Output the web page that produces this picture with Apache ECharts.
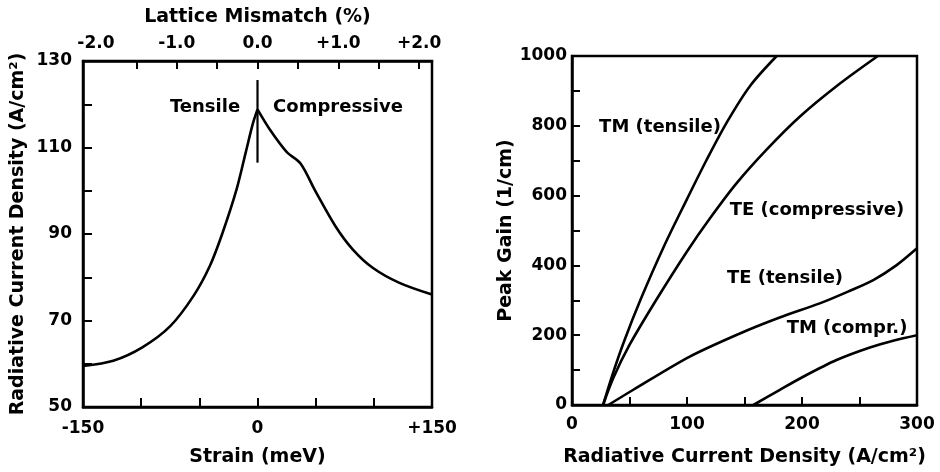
<!DOCTYPE html>
<html>
<head>
<meta charset="UTF-8">
<title>Strain: radiative current density and peak gain</title>
<script src="https://cdn.jsdelivr.net/npm/echarts@6/dist/echarts.min.js"></script>
<style>
  html, body { margin: 0; padding: 0; background: #fff; }
  #chart { width: 940px; height: 472px; }
</style>
</head>
<body>
<div id="chart"></div>
<script>
// left panel: radiative current density vs strain (meV), split at the cusp
var tensileBranch = [[-150, 59.5], [-124, 60.7], [-99, 63.8], [-75, 68.7], [-55, 75.7],
  [-41, 82.6], [-30, 90.3], [-18, 100.3], [-10, 109], [-4, 115.5], [0, 118.8]];
var compressiveBranch = [[0, 118.8], [10, 114.4], [25, 109], [37, 106.3], [50, 99.8],
  [67, 91.8], [82, 86.4], [99, 82.2], [122, 78.7], [150, 76]];
var dividerLine = [[0, 106.5], [0, 125.6]];
var strainLabels = [-150, 0, 150];
var strainTicks = [-100, -50, 0, 50, 100];
var mismatchLabels = [-2, -1, 0, 1, 2];
var mismatchTicks = [-1.5, -1, -0.5, 0, 0.5, 1, 1.5, 2];
var densityLabels = [50, 70, 90, 110, 130];

// right panel: peak gain vs radiative current density
var tmTensile = [[27, 0], [35, 85], [45, 180], [60, 305], [80, 455], [100, 590],
  [117, 702], [135, 812], [155, 915], [178, 1000]];
var teCompressive = [[27, 0], [36, 78], [50, 172], [74, 305], [100, 440], [120, 535],
  [143, 635], [169, 731], [198, 826], [233, 921], [266, 1000]];
var teTensile = [[31.6, 0], [53, 43], [102, 138], [146, 205], [180, 250], [216, 292],
  [240, 325], [262, 358], [282, 400], [300, 449]];
var tmCompr = [[157.7, 0], [180, 42], [201, 81], [230, 129], [259, 165], [280, 185], [300, 200]];
var gainLabels = [0, 200, 400, 600, 800, 1000];
var currentLabels = [0, 100, 200, 300];

var FONT = 'DejaVu Sans';
var INK = '#000';

function tickStyle(len) {
  return { show: true, inside: true, length: len, lineStyle: { color: INK, width: 2 } };
}
function frameLine() {
  return { show: true, onZero: false, lineStyle: { color: INK, width: 2.5 } };
}
function lineSeries(data, xi, yi) {
  return {
    type: 'line', data: data, xAxisIndex: xi, yAxisIndex: yi,
    smooth: 0.3, symbol: 'none', silent: true,
    lineStyle: { color: INK, width: 2.6 }
  };
}
var labelBase = { color: INK, fontFamily: FONT, fontSize: 17, fontWeight: 'bold' };
var nameBase = { color: INK, fontFamily: FONT, fontSize: 19, fontWeight: 'bold' };
function plusFmt(v, d) {
  var s = d ? Math.abs(v).toFixed(d) : String(Math.abs(v));
  if (v > 0) return '+' + s;
  if (v < 0) return '-' + s;
  return s;
}
function note(text, x, y) {
  return { type: 'text', x: x, y: y, style: { text: text, fill: INK,
    font: 'bold 18px "DejaVu Sans"', align: 'center', verticalAlign: 'middle' } };
}

var chart = echarts.init(document.getElementById('chart'));
chart.setOption({
  animation: false,
  grid: [
    { left: 83, right: 508, top: 61, bottom: 64, show: true, borderColor: INK, borderWidth: 2.5 },
    { left: 572, right: 23, top: 56, bottom: 67, show: true, borderColor: INK, borderWidth: 2.5 }
  ],
  xAxis: [
    {
      gridIndex: 0, type: 'value', position: 'bottom', min: -150, max: 150,
      name: 'Strain (meV)', nameLocation: 'middle', nameGap: 41, nameTextStyle: nameBase,
      axisLine: frameLine(),
      axisTick: Object.assign(tickStyle(9), { customValues: strainTicks }),
      axisLabel: Object.assign({}, labelBase, { margin: 13, customValues: strainLabels,
        formatter: function (v) { return plusFmt(v, 0); } }),
      splitLine: { show: false }
    },
    {
      gridIndex: 0, type: 'value', position: 'top', min: -2.16, max: 2.16,
      name: 'Lattice Mismatch (%)', nameLocation: 'middle', nameGap: 34, nameTextStyle: nameBase,
      axisLine: frameLine(),
      axisTick: Object.assign(tickStyle(8), { customValues: mismatchTicks }),
      axisLabel: Object.assign({}, labelBase, { margin: 9, customValues: mismatchLabels,
        formatter: function (v) { return plusFmt(v, 1); } }),
      splitLine: { show: false }
    },
    {
      gridIndex: 1, type: 'value', min: 0, max: 300, interval: 50,
      name: 'Radiative Current Density (A/cm²)', nameLocation: 'middle', nameGap: 43,
      nameTextStyle: nameBase,
      axisLine: frameLine(),
      axisTick: tickStyle(8),
      axisLabel: Object.assign({}, labelBase, { margin: 11, customValues: currentLabels }),
      splitLine: { show: false }
    }
  ],
  yAxis: [
    {
      gridIndex: 0, type: 'value', min: 50, max: 130, interval: 10,
      name: 'Radiative Current Density (A/cm²)', nameLocation: 'middle', nameGap: 55,
      nameTextStyle: nameBase,
      axisLine: frameLine(),
      axisTick: tickStyle(9),
      axisLabel: Object.assign({}, labelBase, { margin: 11, customValues: densityLabels }),
      splitLine: { show: false }
    },
    {
      gridIndex: 1, type: 'value', min: 0, max: 1000, interval: 100,
      name: 'Peak Gain (1/cm)', nameLocation: 'middle', nameGap: 56, nameTextStyle: nameBase,
      axisLine: frameLine(),
      axisTick: tickStyle(8),
      axisLabel: Object.assign({}, labelBase, { margin: 5, customValues: gainLabels,
        formatter: function (v) { return String(v); } }),
      splitLine: { show: false }
    }
  ],
  graphic: [
    note('Tensile', 205, 107),
    note('Compressive', 338, 107),
    note('TM (tensile)', 660, 127),
    note('TE (compressive)', 817, 210),
    note('TE (tensile)', 785, 278),
    note('TM (compr.)', 847, 328)
  ],
  series: [
    lineSeries(tensileBranch, 0, 0),
    lineSeries(compressiveBranch, 0, 0),
    { type: 'line', data: dividerLine, xAxisIndex: 0, yAxisIndex: 0, symbol: 'none', silent: true,
      lineStyle: { color: INK, width: 2.2 } },
    lineSeries(tmTensile, 2, 1),
    lineSeries(teCompressive, 2, 1),
    lineSeries(teTensile, 2, 1),
    lineSeries(tmCompr, 2, 1)
  ]
});
</script>
</body>
</html>
